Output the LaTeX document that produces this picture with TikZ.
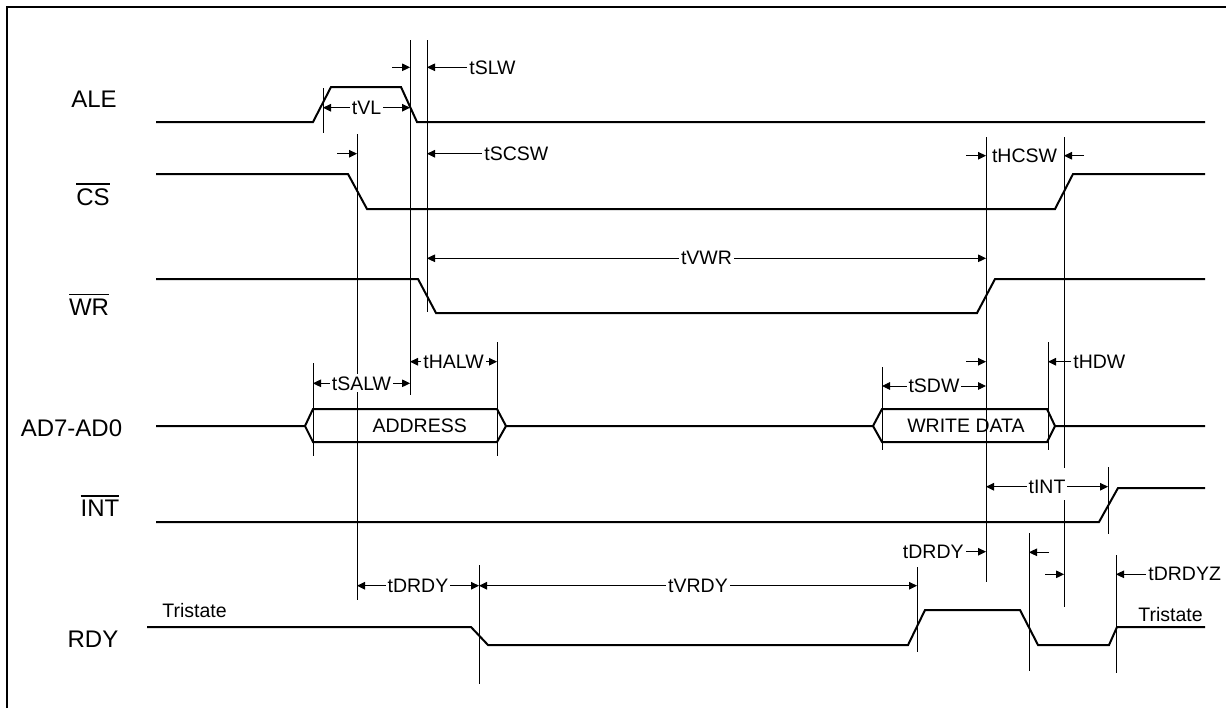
\documentclass[tikz,border=0pt]{standalone}
\usepackage{fontspec}
\setmainfont{Liberation Sans}
\usetikzlibrary{arrows.meta}

\newcommand{\barsig}[1]{\leavevmode\vbox{\hrule height 0.9pt\kern1.5pt\hbox{#1}}}

\begin{document}
\begin{tikzpicture}[x=0.5pt,y=-0.5pt,
      sig_line/.style={
         line width=1pt,
         line join=miter},
      guide_line/.style={
         line width=0.45pt},
      dim_arrow/.style={
         line width=0.45pt,
         -{Triangle[length=4pt,width=3.8pt]}},
      dim_both/.style={
         line width=0.45pt,
         {Triangle[length=4pt,width=3.8pt]}-{Triangle[length=4pt,width=3.8pt]}},
      sig_label/.style={
         anchor=base,
         inner sep=0pt,
         font=\fontsize{12}{14}\selectfont},
      t_label/.style={
         fill=white,
         inner sep=1pt,
         font=\fontsize{9.75}{11}\selectfont}
]
      \useasboundingbox (0,0) rectangle (1226,708);

      %frame
      \draw[line width=1pt] (6.5,708) -- (6.5,6.7) -- (1226,6.7);

      %signal names
      \node[sig_label] (ale) at (94,107) {ALE};
      \node[sig_label] (cs) at (93,205) {\barsig{CS}};
      \node[sig_label] (wr) at (89,315) {\barsig{WR}};
      \node[sig_label] (ad) at (71.5,436) {AD7-AD0};
      \node[sig_label] (int) at (100,516.7) {\barsig{INT}};
      \node[sig_label] (rdy) at (93,647.3) {RDY};

      %waveforms
      \draw[sig_line] (156,122) -- (313,122) -- (331,87) -- (401,87) -- (417,122) -- (1205,122);
      \draw[sig_line] (156,174) -- (348,174) -- (367,209) -- (1055,209) -- (1073,174) -- (1205,174);
      \draw[sig_line] (156,279) -- (418,279) -- (436,313) -- (977,313) -- (995,279) -- (1205,279);
      \draw[sig_line] (156,426) -- (305,426) -- (313,409) -- (497,409) -- (506,426)
         -- (873,426) -- (882,409) -- (1047,409) -- (1055,426) -- (1205,426);
      \draw[sig_line] (305,426) -- (313,442) -- (497,442) -- (506,426);
      \draw[sig_line] (873,426) -- (882,442) -- (1047,442) -- (1055,426);
      \draw[sig_line] (156,522) -- (1099,522) -- (1118,488) -- (1205,488);
      \draw[sig_line] (147,627) -- (471,627) -- (488,645) -- (908,645) -- (925,610)
         -- (1020,610) -- (1038,645) -- (1109,645) -- (1117,627) -- (1205,627);

      \node[t_label,fill=none] (addr) at (419.7,426) {ADDRESS};
      \node[t_label,fill=none] (wdata) at (966,426) {WRITE DATA};
      \node[t_label,fill=none,anchor=base west] (tri_a) at (160,617.3) {Tristate};
      \node[t_label,fill=none,anchor=base west] (tri_b) at (1136,621.7) {Tristate};

      %guides
      \foreach \x/\ya/\yb in {% x/top/bottom
        323/88/133, 410/40/395, 427/40/312, 357/134/600,
        986/137/582, 1064/137/468, 1064/500/607,
        313/363/456, 497/342/456, 882/367/450, 1048/342/450,
        1108/467/534, 479/565/684, 917/567/652, 1029/533/671, 1116/555/673}
        \draw[guide_line] (\x,\ya) -- (\x,\yb);

      %timings between two guides
      \foreach \a/\b/\y/\n/\txt in {% start/end/height/name/text
        323/410/107.7/vl/tVL,
        427/986/258.3/vwr/tVWR,
        313/410/383.3/salw/tSALW,
        410/497/361.7/halw/tHALW,
        882/986/386/sdw/tSDW,
        986/1108/486.7/tint/tINT,
        357/479/585.7/drdy_a/tDRDY,
        479/917/585.7/vrdy/tVRDY}
        \draw[dim_both] (\a,\y) -- node[t_label] (\n) {\txt} (\b,\y);

      %short arrows
      \foreach \a/\b/\y in {% start/end/height
        392/410/67.3, 467/427/67.3,
        337/357/153.7, 482/427/153.7,
        966/986/155.7, 1084/1064/155.7,
        966/986/361.7, 1071/1048/361.7,
        966/986/551.7, 1049/1029/552.3,
        1045/1064/574.3, 1146/1116/574.3}
        \draw[dim_arrow] (\a,\y) -- (\b,\y);

      \node[t_label,anchor=west] (slw) at (467,67.3) {tSLW};
      \node[t_label,anchor=west] (scsw) at (482,153.7) {tSCSW};
      \node[t_label] (hcsw) at (1024.5,155.7) {tHCSW};
      \node[t_label,anchor=west] (hdw) at (1071,361.7) {tHDW};
      \node[t_label,anchor=east] (drdy_b) at (966,551.7) {tDRDY};
      \node[t_label,anchor=west] (drdyz) at (1146,574.3) {tDRDYZ};

\end{tikzpicture}
\end{document}
